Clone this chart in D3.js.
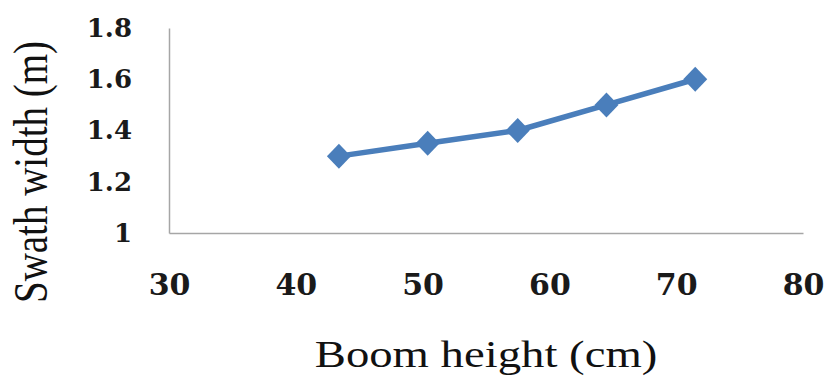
<!DOCTYPE html>
<html>
<head>
<meta charset="utf-8">
<script src="https://cdn.jsdelivr.net/npm/d3@7"></script>
<style>
  html, body { margin: 0; padding: 0; background: #fff; }
  svg { display: block; }
</style>
</head>
<body>
<svg id="chart" width="829" height="377"></svg>
<script>
// Data
const boomHeight = [43.4, 50.4, 57.5, 64.5, 71.5];
const swathWidth = [1.30, 1.35, 1.40, 1.50, 1.60];
const xTickValues = [30, 40, 50, 60, 70, 80];
const xTickLabels = ["30", "40", "50", "60", "70", "80"];
const yTickValues = [1, 1.2, 1.4, 1.6, 1.8];
const yTickLabels = ["1", "1.2", "1.4", "1.6", "1.8"];
const xTitle = "Boom height (cm)";
const yTitle = "Swath width (m)";

(function () {
const svg = d3.select("#chart");
const mLeft = 169, mRight = 803, mTop = 28, mBottom = 233;

const x = d3.scaleLinear().domain([30, 80]).range([mLeft, mRight]);
const y = d3.scaleLinear().domain([1, 1.8]).range([mBottom, mTop]);

const axisColor = "#a6a6a6";

// X axis
const gx = svg.append("g")
  .attr("transform", `translate(0,${mBottom})`)
  .call(d3.axisBottom(x).tickValues(xTickValues)
    .tickFormat((d, i) => xTickLabels[i])
    .tickSize(0).tickSizeOuter(0).tickPadding(41));
gx.select(".domain").attr("stroke", axisColor).attr("stroke-width", 1.5);
gx.selectAll("text")
  .attr("font-family", "DejaVu Serif")
  .attr("font-weight", "bold")
  .attr("font-size", 30)
  .attr("fill", "#1a1a1a");

// Y axis
const gy = svg.append("g")
  .attr("transform", `translate(${mLeft},0)`)
  .call(d3.axisLeft(y).tickValues(yTickValues)
    .tickFormat((d, i) => yTickLabels[i])
    .tickSize(0).tickSizeOuter(0).tickPadding(37));
gy.select(".domain").attr("stroke", axisColor).attr("stroke-width", 1.5);
gy.selectAll("text")
  .attr("font-family", "DejaVu Serif")
  .attr("font-weight", "bold")
  .attr("font-size", 26)
  .attr("fill", "#1a1a1a");

// Line
const lineColor = "#4a7ebb";
const pts = boomHeight.map((d, i) => [d, swathWidth[i]]);
svg.append("path")
  .datum(pts)
  .attr("fill", "none")
  .attr("stroke", lineColor)
  .attr("stroke-width", 5.5)
  .attr("stroke-linejoin", "round")
  .attr("d", d3.line().x(d => x(d[0])).y(d => y(d[1])));

// Diamond markers
svg.selectAll(".marker")
  .data(pts)
  .join("path")
  .attr("class", "marker")
  .attr("fill", lineColor)
  .attr("transform", d => `translate(${x(d[0])},${y(d[1])})`)
  .attr("d", "M0,-12.5L12,0L0,12.5L-12,0Z");

// Axis titles
svg.append("text")
  .attr("transform", `translate(${(mLeft + mRight) / 2},367) scale(1.23,1)`)
  .attr("text-anchor", "middle")
  .attr("font-family", "Liberation Serif")
  .attr("font-size", 38)
  .attr("fill", "#111")
  .text(xTitle);

svg.append("text")
  .attr("transform", `translate(47,172) scale(1.25,1) rotate(-90)`)
  .attr("text-anchor", "middle")
  .attr("font-family", "Liberation Serif")
  .attr("font-size", 39)
  .attr("fill", "#111")
  .text(yTitle);
})();
</script>
</body>
</html>
